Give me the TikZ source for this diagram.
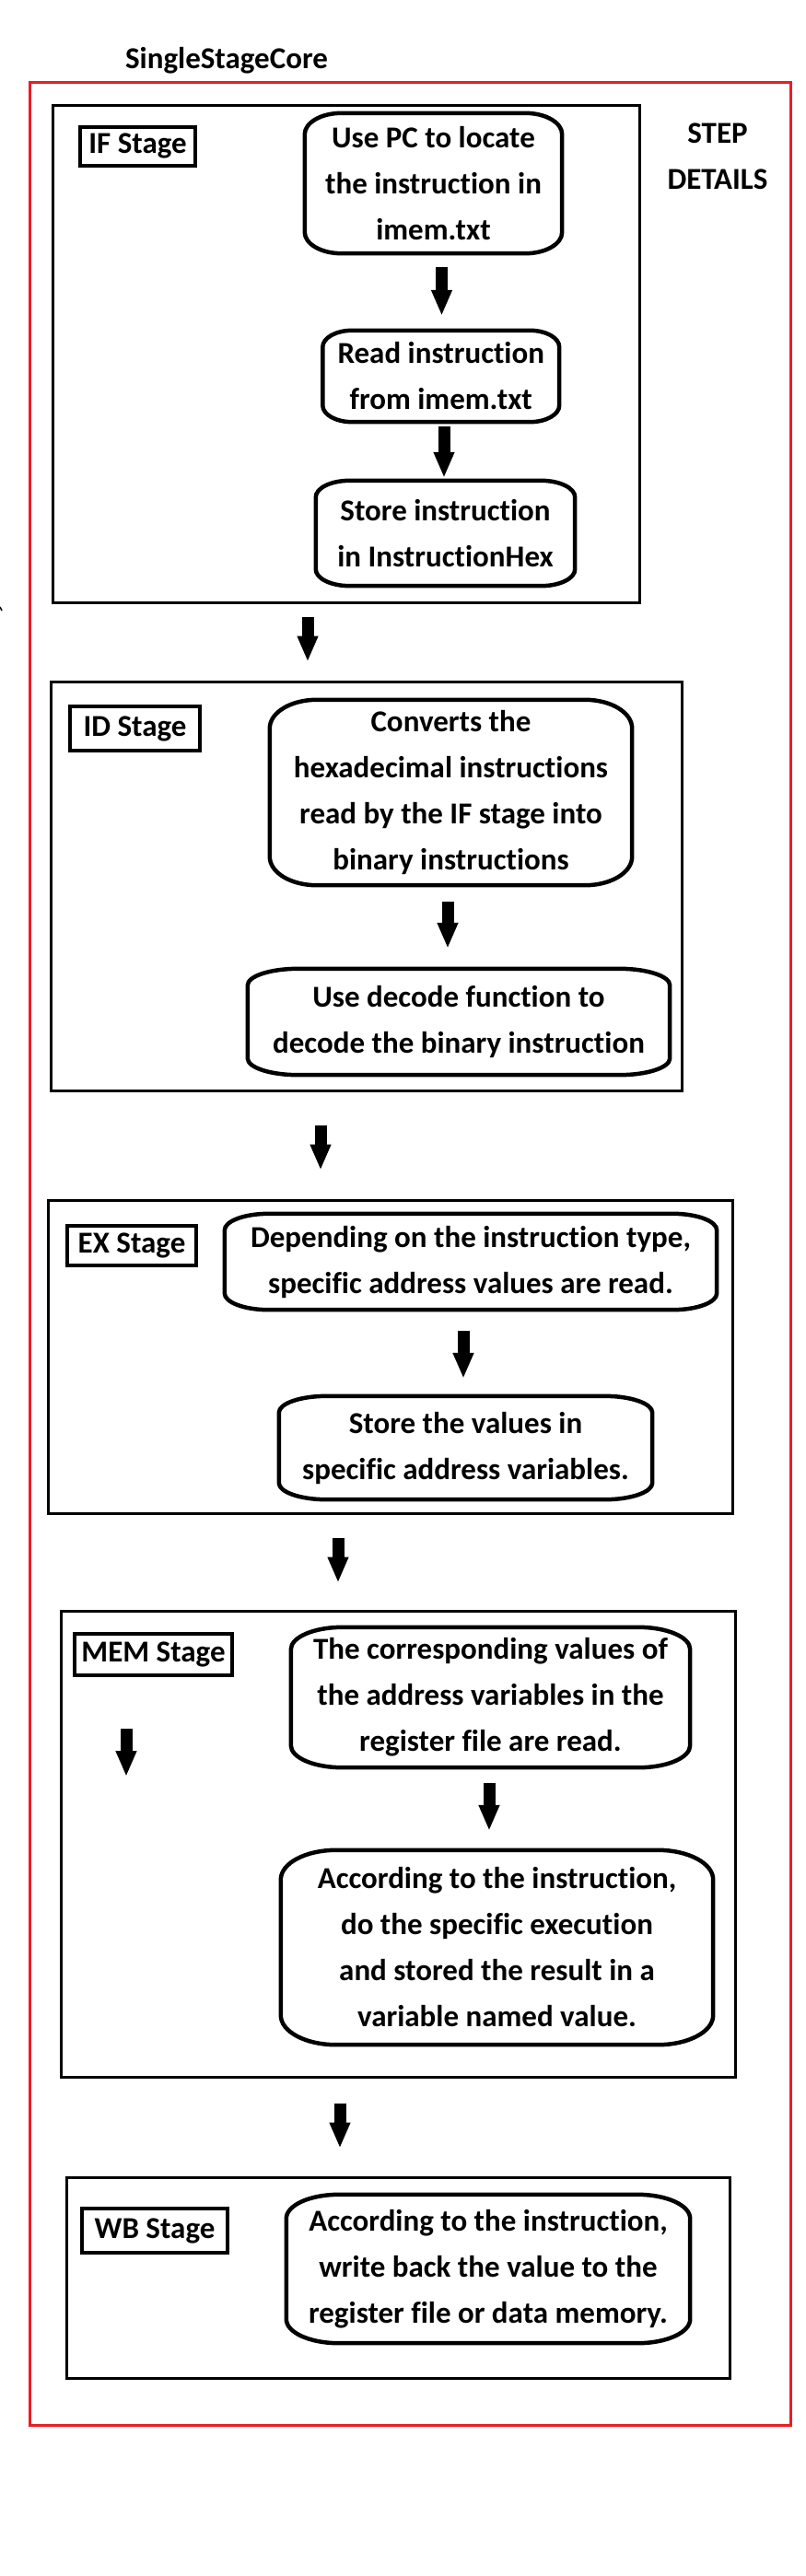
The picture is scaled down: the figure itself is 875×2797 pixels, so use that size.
\documentclass[tikz,border=0pt]{standalone}
\usepackage{fontspec}
\setmainfont{Carlito}[Ligatures=NoCommon]
\usetikzlibrary{arrows.meta,calc}
\definecolor{pred}{RGB}{237,28,36}
% outline with elliptical corners around a named node: name, x radius, y radius
\newcommand\ebox[3]{\draw[line width=4.5pt]
  ($(#1.north west)+(#2,0)$) -- ($(#1.north east)+(-#2,0)$)
  arc[start angle=90,end angle=0,x radius=#2pt,y radius=#3pt]
  -- ($(#1.south east)+(0,-#3)$)
  arc[start angle=0,end angle=-90,x radius=#2pt,y radius=#3pt]
  -- ($(#1.south west)+(#2,0)$)
  arc[start angle=270,end angle=180,x radius=#2pt,y radius=#3pt]
  -- ($(#1.north west)+(0,#3)$)
  arc[start angle=180,end angle=90,x radius=#2pt,y radius=#3pt] -- cycle;}
\begin{document}
\begin{tikzpicture}[x=1pt,y=-1pt,
  txt/.style={font=\fontsize{33}{50}\selectfont\bfseries, align=center, inner sep=0pt},
  stepbox/.style={txt},
  stagebox/.style={draw, line width=3pt, inner sep=0pt},
  lbl/.style={txt, draw, line width=4pt},
  bigarrow/.style={line width=13pt, -{Triangle[width=21pt,length=28pt]}}]
\useasboundingbox (0,0) rectangle (875,2797);
\fill[white] (0,0) rectangle (875,2797);
% title and frame
\node[txt] (title) at (246,66) {SingleStageCore};
\node[draw=pred, line width=3pt, inner sep=0pt, minimum width=825.5pt, minimum height=2544pt] (core) at (445.25,1361) {};
\node[txt] (step) at (779,169.5) {STEP\\DETAILS};
% stage boxes
\node[stagebox, minimum width=637pt, minimum height=540pt] (ifbox) at (375.5,384) {};
\node[stagebox, minimum width=685pt, minimum height=444pt] (idbox) at (397.5,962) {};
\node[stagebox, minimum width=743pt, minimum height=340pt] (exbox) at (423.5,1473) {};
\node[stagebox, minimum width=732pt, minimum height=506pt] (membox) at (432,2002) {};
\node[stagebox, minimum width=720pt, minimum height=218pt] (wbbox) at (432,2473) {};
% stage labels
\node[lbl, minimum width=125pt, minimum height=42pt] (iflbl) at (149.5,158.5) {IF Stage};
\node[lbl, minimum width=141pt, minimum height=48pt] (idlbl) at (146.5,791) {ID Stage};
\node[lbl, minimum width=140pt, minimum height=43pt] (exlbl) at (143,1352.5) {EX Stage};
\node[lbl, minimum width=171pt, minimum height=45pt] (memlbl) at (166.5,1796.5) {MEM Stage};
\node[lbl, minimum width=158pt, minimum height=48pt] (wblbl) at (168,2422) {WB Stage};
% step boxes
\node[stepbox, minimum width=279pt, minimum height=152pt] (b1) at (470.5,199) {Use PC to locate\\the instruction in\\imem.txt};
\node[stepbox, minimum width=256.5pt, minimum height=99pt] (b2) at (478.75,408.5) {Read instruction\\from imem.txt};
\node[stepbox, minimum width=281pt, minimum height=114pt] (b3) at (483.5,579) {Store instruction\\in InstructionHex};
\node[stepbox, minimum width=393pt, minimum height=201pt] (b4) at (489.5,860.5) {Converts the\\hexadecimal instructions\\read by the IF stage into\\binary instructions};
\node[stepbox, minimum width=458pt, minimum height=115pt] (b5) at (498,1109.5) {Use decode function to\\decode the binary instruction};
\node[stepbox, minimum width=534pt, minimum height=104pt] (b6) at (511,1370) {Depending on the instruction type,\\specific address values are read.};
\node[stepbox, minimum width=405pt, minimum height=112pt] (b7) at (505.5,1572) {Store the values in\\specific address variables.};
\node[stepbox, minimum width=433pt, minimum height=152pt] (b8) at (532.5,1843) {The corresponding values of\\the address variables in the\\register file are read.};
\node[stepbox, minimum width=469pt, minimum height=211pt] (b9) at (539.5,2114.5) {According to the instruction,\\do the specific execution\\and stored the result in a\\variable named value.};
\node[stepbox, minimum width=438pt, minimum height=161pt] (b10) at (530,2463.5) {According to the instruction,\\write back the value to the\\register file or data memory.};
% outlines
\ebox{b1}{40}{23}
\ebox{b2}{32}{18}
\ebox{b3}{37}{18}
\ebox{b4}{51}{31}
\ebox{b5}{55}{18}
\ebox{b6}{48}{18}
\ebox{b7}{52}{18}
\ebox{b8}{56}{24}
\ebox{b9}{60}{32}
\ebox{b10}{57}{26}
% arrows
\draw[bigarrow] ($(b1.south)+(9,15)$) -- ($(b2.north)+(0.75,-16)$);
\draw[bigarrow] ($(b2.south)+(3.25,5)$) -- ($(b3.north)+(-1.5,-3)$);
\draw[bigarrow] ($(ifbox.south)+(-41.5,14)$) -- ($(idbox.north)+(-63.5,-20)$);
\draw[bigarrow] ($(b4.south)+(-3.5,18)$) -- ($(b5.north)+(-12,-22)$);
\draw[bigarrow] ($(idbox.south)+(-49.5,36)$) -- ($(exbox.north)+(-75.5,-31)$);
\draw[bigarrow] ($(b6.south)+(-8,23)$) -- ($(b7.north)+(-2.5,-19)$);
\draw[bigarrow] ($(exbox.south)+(-56.5,25)$) -- ($(membox.north)+(-65,-29)$);
\draw[bigarrow] ($(b8.south)+(-1.5,17)$) -- ($(b9.north)+(-8.5,-21)$);
\draw[bigarrow] ($(membox.south)+(-63,27)$) -- ($(wbbox.north)+(-63,-30)$);
% stray arrow inside MEM stage
\coordinate (s1) at (137,1877);
\coordinate (s2) at (137,1929);
\draw[bigarrow] (s1) -- (s2);
% tiny mark at left edge
\coordinate (m1) at (0,659);
\coordinate (m2) at (2,663);
\draw[line width=1.5pt] (m1) -- (m2);
\end{tikzpicture}
\end{document}
